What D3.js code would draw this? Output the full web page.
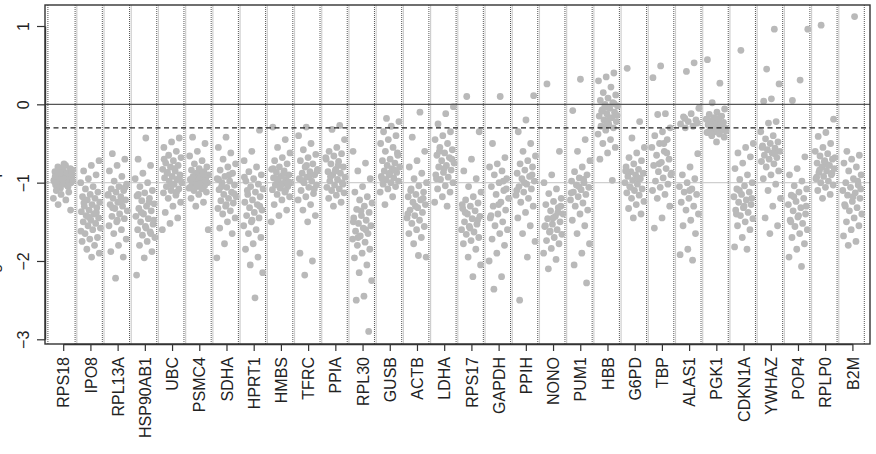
<!DOCTYPE html>
<html>
<head>
<meta charset="utf-8">
<script src="https://cdn.jsdelivr.net/npm/d3@7"></script>
<style>
  body { margin: 0; background: #fff; }
  text { font-family: "Liberation Sans", Arial, Helvetica, sans-serif; }
</style>
</head>
<body>
<div id="chart"></div>
<script>
// gene names, left to right
const genes = ["RPS18","IPO8","RPL13A","HSP90AB1","UBC","PSMC4","SDHA","HPRT1","HMBS","TFRC",
  "PPIA","RPL30","GUSB","ACTB","LDHA","RPS17","GAPDH","PPIH","NONO","PUM1",
  "HBB","G6PD","TBP","ALAS1","PGK1","CDKN1A","YWHAZ","POP4","RPLP0","B2M"];

// per-gene values
const RPS18 = [-0.78,-0.8,-0.82,-0.85,-0.86,-0.88,-0.9,-0.9,-0.92,-0.93,-0.95,-0.95,-0.97,-0.98,-1.0,-1.0,-1.02,-1.03,-1.05,-1.07,-0.84,-0.87,-0.91,-0.94,-0.96,-0.99,-1.01,-0.83,-0.89,-0.76,-1.1,-1.12,-1.15,-1.2,-1.22,-1.28,-1.35,-0.81,-0.92,-1.04,-0.88,-0.97];
const IPO8 = [-0.72,-0.78,-0.85,-0.9,-0.95,-1.0,-1.05,-1.08,-1.12,-1.15,-1.18,-1.2,-1.22,-1.25,-1.28,-1.3,-1.32,-1.35,-1.37,-1.4,-1.42,-1.45,-1.48,-1.5,-1.52,-1.55,-1.58,-1.6,-1.65,-1.7,-1.72,-1.75,-1.8,-1.85,-1.9,-1.95,-1.26,-1.38,-1.44,-1.62];
const RPL13A = [-0.63,-0.7,-0.78,-0.85,-0.92,-0.98,-1.02,-1.05,-1.08,-1.1,-1.12,-1.15,-1.18,-1.2,-1.22,-1.25,-1.28,-1.3,-1.33,-1.36,-1.4,-1.43,-1.46,-1.5,-1.55,-1.6,-1.65,-1.72,-1.8,-1.88,-1.95,-2.22,-1.16,-1.24,-1.32,-1.06,-1.48];
const HSP90AB1 = [-0.43,-0.7,-0.78,-0.88,-0.95,-1.0,-1.05,-1.1,-1.13,-1.17,-1.2,-1.23,-1.27,-1.3,-1.33,-1.36,-1.4,-1.43,-1.46,-1.5,-1.53,-1.56,-1.6,-1.63,-1.67,-1.7,-1.75,-1.8,-1.88,-1.96,-2.18,-1.25,-1.38,-1.48,-1.58,-1.15,-1.65];
const UBC = [-0.43,-0.48,-0.55,-0.6,-0.65,-0.68,-0.72,-0.75,-0.78,-0.8,-0.83,-0.85,-0.87,-0.9,-0.92,-0.94,-0.96,-0.98,-1.0,-1.02,-1.05,-1.08,-1.1,-1.13,-1.16,-1.2,-1.25,-1.3,-1.38,-1.45,-1.52,-1.6,-0.82,-0.88,-0.95,-1.03,-0.7,-1.12];
const PSMC4 = [-0.42,-0.5,-0.6,-0.66,-0.72,-0.76,-0.8,-0.82,-0.84,-0.86,-0.88,-0.9,-0.91,-0.92,-0.94,-0.95,-0.96,-0.98,-0.99,-1.0,-1.01,-1.02,-1.04,-1.05,-1.07,-1.08,-1.1,-1.12,-1.15,-1.2,-1.25,-1.3,-1.6,-0.87,-0.93,-0.97,-1.03,-1.06,-0.89];
const SDHA = [-0.42,-0.55,-0.62,-0.7,-0.76,-0.8,-0.84,-0.88,-0.92,-0.95,-0.98,-1.0,-1.03,-1.06,-1.09,-1.12,-1.15,-1.18,-1.2,-1.23,-1.26,-1.3,-1.33,-1.36,-1.4,-1.45,-1.5,-1.58,-1.65,-1.78,-1.96,-0.9,-1.05,-1.14,-1.28,-0.96];
const HPRT1 = [-0.33,-0.6,-0.72,-0.8,-0.86,-0.9,-0.95,-0.98,-1.02,-1.05,-1.08,-1.12,-1.15,-1.18,-1.22,-1.25,-1.28,-1.32,-1.35,-1.38,-1.42,-1.45,-1.5,-1.55,-1.6,-1.65,-1.7,-1.78,-1.85,-1.95,-2.05,-2.15,-2.47,-1.1,-1.3,-1.48,-0.93];
const HMBS = [-0.29,-0.45,-0.55,-0.62,-0.68,-0.72,-0.76,-0.8,-0.83,-0.85,-0.87,-0.9,-0.92,-0.94,-0.96,-0.98,-1.0,-1.01,-1.03,-1.05,-1.07,-1.09,-1.12,-1.15,-1.18,-1.22,-1.28,-1.35,-1.42,-1.5,-0.88,-0.95,-0.99,-1.04,-0.82,-1.1];
const TFRC = [-0.29,-0.4,-0.5,-0.58,-0.64,-0.68,-0.72,-0.76,-0.8,-0.83,-0.86,-0.88,-0.9,-0.93,-0.95,-0.98,-1.0,-1.03,-1.06,-1.1,-1.14,-1.18,-1.22,-1.28,-1.35,-1.42,-1.5,-1.9,-2.0,-2.18,-0.85,-0.92,-0.97,-1.08,-0.78];
const PPIA = [-0.27,-0.32,-0.45,-0.55,-0.6,-0.63,-0.66,-0.7,-0.73,-0.76,-0.8,-0.83,-0.86,-0.88,-0.9,-0.93,-0.96,-0.98,-1.0,-1.03,-1.06,-1.08,-1.1,-1.13,-1.16,-1.2,-1.25,-1.3,-0.68,-0.78,-0.92,-1.02,-0.85];
const RPL30 = [-0.6,-0.75,-0.85,-0.95,-1.05,-1.12,-1.18,-1.22,-1.26,-1.3,-1.34,-1.38,-1.42,-1.45,-1.48,-1.52,-1.55,-1.58,-1.62,-1.65,-1.68,-1.72,-1.76,-1.8,-1.85,-1.9,-1.96,-2.05,-2.15,-2.25,-2.45,-2.5,-2.9,-1.36,-1.5,-1.6,-1.7];
const GUSB = [-0.18,-0.22,-0.28,-0.35,-0.4,-0.45,-0.5,-0.55,-0.6,-0.65,-0.7,-0.72,-0.75,-0.78,-0.8,-0.82,-0.85,-0.87,-0.9,-0.92,-0.94,-0.96,-0.98,-1.0,-1.02,-1.05,-1.08,-1.12,-1.18,-1.28,-0.62,-0.88,-0.95,-0.84];
const ACTB = [-0.1,-0.42,-0.6,-0.72,-0.8,-0.88,-0.95,-1.0,-1.04,-1.08,-1.12,-1.15,-1.18,-1.22,-1.25,-1.28,-1.32,-1.35,-1.38,-1.42,-1.45,-1.48,-1.52,-1.56,-1.6,-1.65,-1.7,-1.78,-1.95,-1.93,-1.1,-1.2,-1.3,-1.4];
const LDHA = [-0.03,-0.12,-0.25,-0.35,-0.4,-0.45,-0.5,-0.55,-0.58,-0.62,-0.65,-0.68,-0.72,-0.75,-0.78,-0.8,-0.84,-0.87,-0.9,-0.93,-0.96,-1.0,-1.04,-1.08,-1.12,-1.18,-1.25,-1.3,-0.6,-0.7,-0.82,-0.95];
const RPS17 = [0.1,-0.35,-0.7,-0.85,-0.95,-1.05,-1.12,-1.18,-1.22,-1.26,-1.3,-1.33,-1.36,-1.4,-1.43,-1.46,-1.5,-1.53,-1.56,-1.6,-1.63,-1.66,-1.7,-1.74,-1.78,-1.85,-1.95,-2.05,-2.2,-1.38,-1.48,-1.58,-1.28];
const GAPDH = [0.1,-0.5,-0.68,-0.76,-0.8,-0.85,-0.9,-0.95,-1.0,-1.05,-1.1,-1.15,-1.2,-1.25,-1.3,-1.35,-1.4,-1.45,-1.5,-1.55,-1.6,-1.65,-1.72,-1.8,-1.9,-2.0,-2.2,-2.36,-1.08,-1.28,-1.42,-0.98];
const PPIH = [0.11,-0.2,-0.35,-0.5,-0.6,-0.66,-0.72,-0.76,-0.8,-0.84,-0.88,-0.92,-0.95,-0.98,-1.02,-1.05,-1.08,-1.12,-1.16,-1.2,-1.25,-1.3,-1.38,-1.45,-1.55,-1.65,-1.75,-1.95,-2.5,-0.9,-1.0,-1.1];
const NONO = [0.26,-0.6,-0.9,-1.0,-1.08,-1.14,-1.2,-1.24,-1.28,-1.32,-1.36,-1.4,-1.43,-1.46,-1.5,-1.53,-1.56,-1.6,-1.63,-1.66,-1.7,-1.74,-1.78,-1.84,-1.9,-1.98,-2.1,-1.3,-1.45,-1.55,-1.38,-1.62];
const PUM1 = [0.32,-0.08,-0.45,-0.6,-0.72,-0.8,-0.86,-0.9,-0.94,-0.98,-1.0,-1.03,-1.06,-1.09,-1.12,-1.15,-1.18,-1.22,-1.26,-1.3,-1.35,-1.4,-1.48,-1.55,-1.65,-1.78,-1.9,-2.05,-2.28,-1.05,-1.13,-0.96];
const HBB = [0.4,0.35,0.3,0.22,0.15,0.12,0.08,0.05,0.02,0.0,-0.02,-0.05,-0.07,-0.1,-0.12,-0.15,-0.17,-0.2,-0.22,-0.25,-0.28,-0.3,-0.33,-0.38,-0.45,-0.5,-0.55,-0.62,-0.7,-0.97,-0.04,-0.14,-0.18,-0.09,0.01,-0.26];
const G6PD = [0.46,-0.22,-0.43,-0.55,-0.62,-0.68,-0.72,-0.76,-0.8,-0.83,-0.86,-0.88,-0.9,-0.92,-0.95,-0.97,-1.0,-1.02,-1.05,-1.08,-1.1,-1.13,-1.16,-1.2,-1.24,-1.28,-1.33,-1.4,-1.45,-0.85,-0.94,-1.06];
const TBP = [0.49,0.34,-0.12,-0.13,-0.3,-0.35,-0.4,-0.45,-0.5,-0.55,-0.6,-0.65,-0.7,-0.74,-0.78,-0.82,-0.86,-0.9,-0.94,-0.98,-1.02,-1.06,-1.1,-1.15,-1.2,-1.3,-1.45,-1.58,-0.62,-0.76,-0.88,-0.5];
const ALAS1 = [0.53,0.42,-0.05,-0.12,-0.16,-0.2,-0.22,-0.25,-0.28,-0.3,-0.63,-0.8,-0.9,-0.95,-1.0,-1.05,-1.08,-1.12,-1.15,-1.2,-1.25,-1.3,-1.35,-1.4,-1.48,-1.55,-1.65,-1.85,-1.92,-1.99,-0.18,-0.24,-1.1];
const PGK1 = [0.57,0.27,0.02,-0.06,-0.1,-0.13,-0.15,-0.17,-0.19,-0.2,-0.22,-0.23,-0.25,-0.26,-0.27,-0.28,-0.3,-0.31,-0.32,-0.33,-0.35,-0.36,-0.38,-0.4,-0.42,-0.48,-0.21,-0.24,-0.29,-0.34,-0.18,-0.37];
const CDKN1A = [0.69,-0.5,-0.55,-0.62,-0.67,-0.75,-0.82,-0.9,-0.96,-1.0,-1.04,-1.08,-1.12,-1.15,-1.18,-1.22,-1.25,-1.28,-1.32,-1.35,-1.38,-1.42,-1.46,-1.5,-1.55,-1.6,-1.7,-1.82,-1.85,-1.1,-1.2,-1.3,-1.4];
const YWHAZ = [0.96,0.45,0.26,0.07,0.04,-0.22,-0.24,-0.35,-0.4,-0.44,-0.48,-0.5,-0.53,-0.56,-0.58,-0.6,-0.62,-0.65,-0.68,-0.7,-0.73,-0.76,-0.8,-0.85,-0.9,-0.95,-1.02,-1.1,-1.2,-1.3,-1.45,-1.55,-1.65,-0.55,-0.63];
const POP4 = [0.96,0.31,0.05,-0.67,-0.82,-0.9,-0.98,-1.04,-1.08,-1.12,-1.16,-1.2,-1.24,-1.28,-1.32,-1.36,-1.4,-1.44,-1.48,-1.52,-1.56,-1.6,-1.65,-1.7,-1.78,-1.85,-1.95,-2.07,-1.18,-1.3,-1.42,-1.5];
const RPLP0 = [1.01,-0.19,-0.36,-0.41,-0.5,-0.55,-0.6,-0.63,-0.66,-0.7,-0.72,-0.75,-0.78,-0.8,-0.82,-0.85,-0.87,-0.9,-0.92,-0.95,-0.98,-1.0,-1.03,-1.06,-1.1,-1.15,-1.2,-0.68,-0.77,-0.84,-0.88,-0.73,-0.93];
const B2M = [1.12,-0.6,-0.65,-0.7,-0.75,-0.8,-0.85,-0.9,-0.95,-1.0,-1.03,-1.06,-1.1,-1.13,-1.16,-1.2,-1.24,-1.28,-1.32,-1.36,-1.4,-1.45,-1.5,-1.55,-1.6,-1.68,-1.75,-1.8,-1.08,-1.18,-1.3,-0.98];

const values = [RPS18, IPO8, RPL13A, HSP90AB1, UBC, PSMC4, SDHA, HPRT1, HMBS, TFRC,
  PPIA, RPL30, GUSB, ACTB, LDHA, RPS17, GAPDH, PPIH, NONO, PUM1,
  HBB, G6PD, TBP, ALAS1, PGK1, CDKN1A, YWHAZ, POP4, RPLP0, B2M];

const yTicks = [-3, -2, -1, 0, 1];
const refLines = { zero: 0, cutoff: -0.3, grid: -1 };

const width = 876, height = 454;
const box = { left: 45, right: 870, top: 5, bottom: 344 };

const svg = d3.select('#chart').append('svg')
  .attr('width', width)
  .attr('height', height);

// scales
const x = d3.scaleLinear().domain([1, genes.length]).range([63.2, 852.4]);
const y = d3.scaleLinear().domain([-3, 1]).range([339.3, 26]);

// light gray separators between genes + dotted lines
const seps = d3.range(1, genes.length).map(i => i + 0.5);
svg.append('g').selectAll('line')
  .data(seps)
  .enter().append('line')
  .attr('x1', d => x(d)).attr('x2', d => x(d))
  .attr('y1', box.top).attr('y2', box.bottom)
  .attr('stroke', '#cfcfcf')
  .attr('stroke-width', 1.2);

svg.append('g').selectAll('line')
  .data(d3.range(0, genes.length + 1).map(i => i + 0.5))
  .enter().append('line')
  .attr('x1', d => x(d) - 1.7).attr('x2', d => x(d) - 1.7)
  .attr('y1', box.top).attr('y2', box.bottom)
  .attr('stroke', '#555')
  .attr('stroke-width', 1)
  .attr('stroke-dasharray', '1,1');

// gray line at -1
svg.append('line')
  .attr('x1', box.left).attr('x2', box.right)
  .attr('y1', y(refLines.grid)).attr('y2', y(refLines.grid))
  .attr('stroke', '#cfcfcf')
  .attr('stroke-width', 1.2);

// points (jitter spread by index, golden ratio steps)
const pts = [];
values.forEach((arr, gi) => {
  arr.forEach((v, i) => {
    const off = (((i + 1) * 0.618034 + gi * 0.31) % 1 - 0.5) * 0.74;
    pts.push({ g: gi + 1 + off, v: v });
  });
});

svg.append('g')
  .attr('class', 'points')
  .selectAll('circle')
  .data(pts)
  .enter().append('circle')
  .attr('cx', d => x(d.g))
  .attr('cy', d => y(d.v))
  .attr('r', 3.4)
  .attr('fill', '#b9b9b9');

// reference lines on top
svg.append('line')
  .attr('x1', box.left).attr('x2', box.right)
  .attr('y1', y(refLines.zero)).attr('y2', y(refLines.zero))
  .attr('stroke', '#555')
  .attr('stroke-width', 1.4);

svg.append('line')
  .attr('x1', box.left).attr('x2', box.right)
  .attr('y1', y(refLines.cutoff)).attr('y2', y(refLines.cutoff))
  .attr('stroke', '#222')
  .attr('stroke-width', 1.3)
  .attr('stroke-dasharray', '5,3.5');

// frame
svg.append('rect')
  .attr('x', box.left).attr('y', box.top)
  .attr('width', box.right - box.left)
  .attr('height', box.bottom - box.top)
  .attr('fill', 'none')
  .attr('stroke', '#333')
  .attr('stroke-width', 1.4);

// y axis
const yAxis = svg.append('g')
  .attr('transform', `translate(${box.left},0)`)
  .call(d3.axisLeft(y).tickValues(yTicks).tickFormat(d3.format('d')).tickSize(8).tickSizeOuter(0));
yAxis.select('.domain').attr('stroke', '#333').attr('stroke-width', 1.4);
yAxis.selectAll('.tick line').attr('stroke', '#333').attr('stroke-width', 1.2);
yAxis.selectAll('.tick text')
  .attr('x', 0).attr('dy', 0)
  .attr('transform', 'translate(-16.5,0) rotate(-90)')
  .style('text-anchor', 'middle')
  .style('font-size', '16px')
  .attr('fill', '#222');

// x axis
const xAxis = svg.append('g')
  .attr('transform', `translate(0,${box.bottom})`)
  .call(d3.axisBottom(x)
    .tickValues(d3.range(1, genes.length + 1))
    .tickFormat(d => genes[d - 1])
    .tickSize(7).tickSizeOuter(0));
xAxis.select('.domain').attr('stroke', '#333').attr('stroke-width', 1.4);
xAxis.selectAll('.tick line').attr('stroke', '#333').attr('stroke-width', 1.2);
xAxis.selectAll('.tick text')
  .attr('y', 0).attr('dy', 0)
  .attr('transform', 'translate(5.6,13) rotate(-90)')
  .style('text-anchor', 'end')
  .style('font-size', '16px')
  .attr('fill', '#222');

// y title (mostly cut off at the left edge, as in the source)
svg.append('text')
  .attr('transform', `translate(-1.5,${(box.top + box.bottom) / 2 + 8}) rotate(-90)`)
  .style('text-anchor', 'middle')
  .style('font-size', '16px')
  .attr('fill', '#222')
  .text('log2 relative expression level');
</script>
</body>
</html>
